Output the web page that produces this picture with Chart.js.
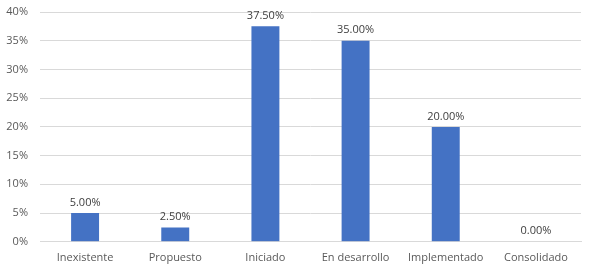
<!DOCTYPE html>
<html>
<head>
<meta charset="utf-8">
<script src="https://cdn.jsdelivr.net/npm/chart.js@4.4.0/dist/chart.umd.min.js"></script>
<style>
  html, body { margin: 0; padding: 0; background: #fff; }
  #wrap { width: 590px; height: 268px; }
</style>
</head>
<body>
<div id="wrap"><canvas id="barChart" width="590" height="268"></canvas></div>
<script>
const categories = ['Inexistente', 'Propuesto', 'Iniciado', 'En desarrollo', 'Implementado', 'Consolidado'];
const values = [5, 2.5, 37.5, 35, 20, 0];
const yTicks = [0, 5, 10, 15, 20, 25, 30, 35, 40];

// etiquetas de valor encima de cada barra
const valueLabels = {
    id: 'valueLabels',
    afterDatasetsDraw(chart) {
        const ctx = chart.ctx;
        const meta = chart.getDatasetMeta(0);
        ctx.save();
        ctx.font = '11px "Open Sans", sans-serif';
        ctx.fillStyle = '#404040';
        ctx.textAlign = 'center';
        ctx.textBaseline = 'bottom';
        meta.data.forEach((bar, i) => {
            ctx.fillText(values[i].toFixed(2) + '%', bar.x, bar.y - 5);
        });
        ctx.restore();
    }
};

const ctx = document.getElementById('barChart').getContext('2d');
new Chart(ctx, {
    type: 'bar',
    data: {
        labels: categories,
        datasets: [{
            data: values,
            backgroundColor: '#4472C4',
            borderWidth: 0,
            barPercentage: 0.62,
            categoryPercentage: 0.5
        }]
    },
    options: {
        responsive: false,
        animation: false,
        layout: { padding: { top: 12, right: 9, left: 0, bottom: 3 } },
        plugins: {
            legend: { display: false },
            tooltip: { enabled: false }
        },
        scales: {
            x: {
                grid: { display: false },
                border: { color: '#d9d9d9' },
                ticks: {
                    color: '#595959',
                    font: { family: '"Open Sans", sans-serif', size: 11 },
                    padding: 1
                }
            },
            y: {
                min: 0,
                max: 40,
                afterBuildTicks(axis) {
                    axis.ticks = yTicks.map(v => ({ value: v }));
                },
                afterFit(axis) {
                    axis.width = 40;
                    axis.paddingTop = 0;
                    axis.paddingBottom = 0;
                },
                grid: { color: '#d9d9d9', drawTicks: false },
                border: { display: false },
                ticks: {
                    color: '#595959',
                    font: { family: '"Open Sans", sans-serif', size: 11 },
                    padding: 12,
                    callback: v => v + '%'
                }
            }
        }
    },
    plugins: [valueLabels]
});
</script>
</body>
</html>
